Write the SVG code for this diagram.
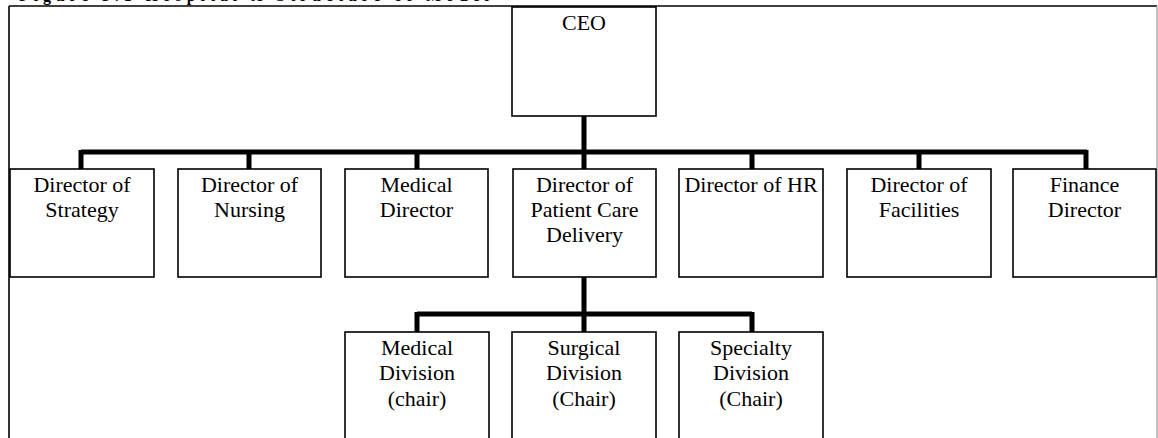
<svg xmlns="http://www.w3.org/2000/svg" width="1158" height="438" viewBox="0 0 1158 438">
<style>
.box{fill:#fff;stroke:#000;stroke-width:1.6}
.lbl{font-family:"Liberation Serif","Times New Roman",serif;font-size:22px;fill:#000;text-anchor:middle}
.conn{fill:none;stroke:#000;stroke-width:5;stroke-linecap:butt}
.title{font-family:"Liberation Serif","Times New Roman",serif;font-size:16px;font-weight:bold;fill:#000}
</style>
<rect width="1158" height="438" fill="#fff"/>
<text class="title" x="19" y="1" textLength="470" lengthAdjust="spacing">Figure 3.1 Hospital X Structure of Model</text>
<g id="frame">
<line x1="9" y1="6" x2="1157" y2="6" stroke="#000" stroke-width="1.6"/>
<line x1="9" y1="6" x2="9" y2="438" stroke="#000" stroke-width="1.6"/>
<line x1="1157" y1="6" x2="1157" y2="438" stroke="#999" stroke-width="1.2"/>
</g>
<g id="connectors">
<path class="conn" d="M584 116V152M81 152H1087M81 150V169M249 152V169M417 152V169M584 152V169M752 152V169M919 152V169M1086 150V169"/>
<path class="conn" d="M584 277V314M417 314H752M417 312V332M584 314V332M752 312V332"/>
</g>
<g id="ceo"><rect class="box" x="512" y="7" width="144" height="109"/><text class="lbl" x="584" y="30">CEO</text></g>
<g id="strategy"><rect class="box" x="10" y="169" width="144" height="108"/><text class="lbl" x="82" y="192">Director of</text><text class="lbl" x="82" y="217">Strategy</text></g>
<g id="nursing"><rect class="box" x="178" y="169" width="143" height="108"/><text class="lbl" x="249.5" y="192">Director of</text><text class="lbl" x="249.5" y="217">Nursing</text></g>
<g id="medical-director"><rect class="box" x="345" y="169" width="143" height="108"/><text class="lbl" x="416.5" y="192">Medical</text><text class="lbl" x="416.5" y="217">Director</text></g>
<g id="patient-care"><rect class="box" x="513" y="169" width="143" height="108"/><text class="lbl" x="584.5" y="192">Director of</text><text class="lbl" x="584.5" y="217">Patient Care</text><text class="lbl" x="584.5" y="242">Delivery</text></g>
<g id="hr"><rect class="box" x="679" y="169" width="144" height="108"/><text class="lbl" x="751" y="192">Director of HR</text></g>
<g id="facilities"><rect class="box" x="847" y="169" width="144" height="108"/><text class="lbl" x="919" y="192">Director of</text><text class="lbl" x="919" y="217">Facilities</text></g>
<g id="finance"><rect class="box" x="1013" y="169" width="143" height="108"/><text class="lbl" x="1084.5" y="192">Finance</text><text class="lbl" x="1084.5" y="217">Director</text></g>
<g id="medical-division"><rect class="box" x="345" y="332" width="144" height="120"/><text class="lbl" x="417" y="355">Medical</text><text class="lbl" x="417" y="380">Division</text><text class="lbl" x="417" y="406">(chair)</text></g>
<g id="surgical-division"><rect class="box" x="512" y="332" width="144" height="120"/><text class="lbl" x="584" y="355">Surgical</text><text class="lbl" x="584" y="380">Division</text><text class="lbl" x="584" y="406">(Chair)</text></g>
<g id="specialty-division"><rect class="box" x="679" y="332" width="144" height="120"/><text class="lbl" x="751" y="355">Specialty</text><text class="lbl" x="751" y="380">Division</text><text class="lbl" x="751" y="406">(Chair)</text></g>
</svg>
